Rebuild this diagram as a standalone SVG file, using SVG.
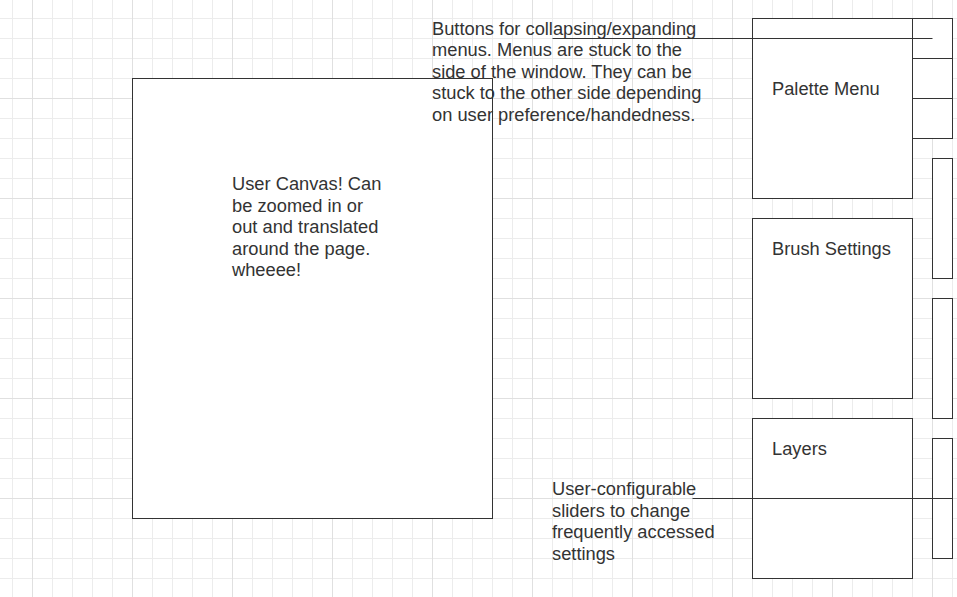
<svg xmlns="http://www.w3.org/2000/svg" width="957" height="597" viewBox="0 0 957 597">
<defs>
<pattern id="minor" x="12" y="18" width="20" height="20" patternUnits="userSpaceOnUse">
<path d="M0 0.5H20M0.5 0V20" fill="none" stroke="#ececec" stroke-width="1"/>
</pattern>
<pattern id="major" x="32" y="-2" width="100" height="100" patternUnits="userSpaceOnUse">
<path d="M0 0.5H100M0.5 0V100" fill="none" stroke="#e0e0e0" stroke-width="1"/>
</pattern>
</defs>
<style>
.box{fill:#ffffff;stroke:#333333;stroke-width:1}
.ln{fill:none;stroke:#333333;stroke-width:1}
.t{font-family:"Liberation Sans",Arial,Helvetica,sans-serif;font-size:18.3px;fill:#333333}
</style>
<rect width="957" height="597" fill="#ffffff"/>
<rect width="957" height="597" fill="url(#minor)"/>
<rect width="957" height="597" fill="url(#major)"/>

<g id="canvas">
<rect class="box" x="132.5" y="78.5" width="360" height="440"/>
<text class="t" x="232" y="190">User Canvas! Can</text>
<text class="t" x="232" y="211.6">be zoomed in or</text>
<text class="t" x="232" y="233.2">out and translated</text>
<text class="t" x="232" y="254.8">around the page.</text>
<text class="t" x="232" y="276.4">wheeee!</text>
</g>

<g id="palette-menu">
<rect class="box" x="752.5" y="18.5" width="160" height="180"/>
<text class="t" x="772" y="95">Palette Menu</text>
</g>
<g id="brush-settings">
<rect class="box" x="752.5" y="218.5" width="160" height="180"/>
<text class="t" x="772" y="255">Brush Settings</text>
</g>
<g id="layers">
<rect class="box" x="752.5" y="418.5" width="160" height="160"/>
<text class="t" x="772" y="455">Layers</text>
</g>

<g id="buttons">
<rect class="box" x="912.5" y="18.5" width="40" height="40"/>
<rect class="box" x="912.5" y="58.5" width="40" height="40"/>
<rect class="box" x="912.5" y="98.5" width="40" height="40"/>
</g>
<g id="sliders">
<rect class="box" x="932.5" y="158.5" width="20" height="120"/>
<rect class="box" x="932.5" y="298.5" width="20" height="120"/>
<rect class="box" x="932.5" y="438.5" width="20" height="120"/>
</g>

<g id="connectors">
<path class="ln" d="M552.5 38.5H932.5"/>
<path class="ln" d="M692.5 498.5H952.5"/>
</g>

<g id="buttons-note">
<text class="t" x="432" y="34.6">Buttons for collapsing/expanding</text>
<text class="t" x="432" y="56.2">menus. Menus are stuck to the</text>
<text class="t" x="432" y="77.8">side of the window. They can be</text>
<text class="t" x="432" y="99.4">stuck to the other side depending</text>
<text class="t" x="432" y="121">on user preference/handedness.</text>
</g>
<g id="sliders-note">
<text class="t" x="552" y="495">User-configurable</text>
<text class="t" x="552" y="516.6">sliders to change</text>
<text class="t" x="552" y="538.2">frequently accessed</text>
<text class="t" x="552" y="559.8">settings</text>
</g>
</svg>
